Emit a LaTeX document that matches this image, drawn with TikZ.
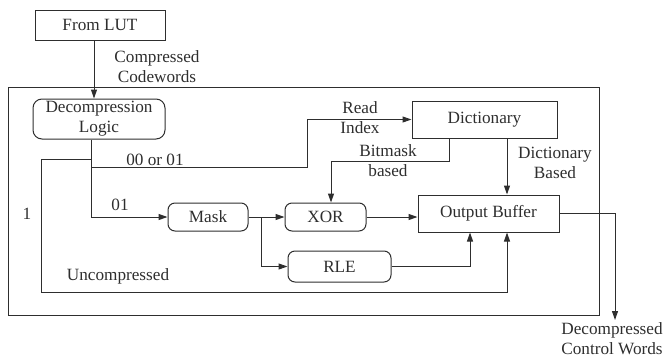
\documentclass[tikz,border=0pt]{standalone}
\usepackage{fontspec}
\setmainfont{Liberation Serif}
\usetikzlibrary{arrows.meta}
\definecolor{ink}{gray}{0.18}
\begin{document}
\begin{tikzpicture}[x=1pt,y=-1pt,
  every node/.style={font=\fontsize{17.2}{20}\selectfont, text=ink, inner sep=0pt, align=center},
  wire/.style={draw=ink, line width=1pt},
  arr/.style={wire, -{Triangle[length=9pt,width=6pt]}},
  blk/.style={draw=ink, line width=1pt, minimum width=#1},
  rblk/.style={blk=#1, rounded corners=7pt},
  lbl/.style={}]
\useasboundingbox (0,0) rectangle (668,359);

% enclosing unit
\draw[wire] (8,87) rectangle (599,315);

% blocks
\node[blk=130pt, minimum height=30pt] (lut) at (100,25) {From LUT};
\node[rblk=132pt, minimum height=40pt, rounded corners=9pt] (dl) at (99,119) {Decompression\\Logic};
\node[blk=145pt, minimum height=37pt] (dict) at (484.5,119.5) {Dictionary};
\node[rblk=80pt, minimum height=28pt] (mask) at (208,217) {Mask};
\node[rblk=81pt, minimum height=28pt] (xor) at (325.5,217) {XOR};
\node[rblk=103pt, minimum height=31pt] (rle) at (339.5,266.5) {RLE};
\node[blk=141pt, minimum height=37pt] (ob) at (488.5,213.5) {Output Buffer};

% branch points and free end
\coordinate (j1) at (91,159);
\coordinate (j2) at (91,167);
\coordinate (j3) at (261,217);
\coordinate (out) at (615,320);

% connectors
\draw[arr] ([xshift=-6pt]lut.south) -- ([xshift=-5pt]dl.north);
\draw[arr] ([xshift=-8pt]dl.south) |- (mask.west);
\draw[arr] (j2) -- (307,167) |- (dict.west);
\draw[arr] (j1) -- (41,159) -- (41,292) -| ([xshift=18.5pt]ob.south);
\draw[arr] ([xshift=22.5pt]dict.south) -- ([xshift=18.5pt]ob.north);
\draw[arr] ([xshift=-35.5pt]dict.south) |- (331,161) -- ([xshift=5.5pt]xor.north);
\draw[arr] (mask.east) -- (xor.west);
\draw[arr] (j3) |- (rle.west);
\draw[arr] (xor.east) -- (xor.east -| ob.west);
\draw[arr] (rle.east) -| ([xshift=-18.5pt]ob.south);
\draw[arr] (ob.east) -| (out);

% labels
\node[lbl] (lc) at (157,67) {Compressed\\Codewords};
\node[lbl] (l00) at (155,160) {00 or 01};
\node[lbl] (lri) at (360,118) {Read\\Index};
\node[lbl] (lbm) at (388,161) {Bitmask\\based};
\node[lbl] (ldb) at (555,163) {Dictionary\\Based};
\node[lbl] (l01) at (120,205) {01};
\node[lbl] (l1) at (27,214) {1};
\node[lbl] (lun) at (118,276) {Uncompressed};
\node[lbl] (ldc) at (612,339) {Decompressed\\Control Words};
\end{tikzpicture}
\end{document}
